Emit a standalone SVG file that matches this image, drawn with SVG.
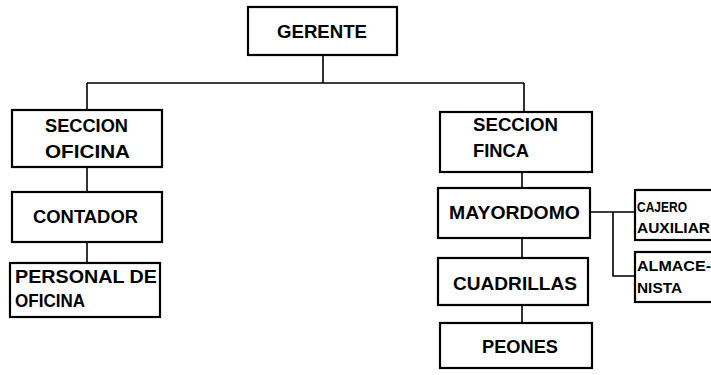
<svg xmlns="http://www.w3.org/2000/svg" width="711" height="375" viewBox="0 0 711 375">
<style>
.box{fill:#fff;stroke:#000;stroke-width:2.2}
.t{font-family:"Liberation Sans",Arial,sans-serif;font-weight:bold;font-size:19px;fill:#000}
.s{font-family:"Liberation Sans",Arial,sans-serif;font-weight:bold;font-size:15px;fill:#000}
.c{fill:none;stroke:#000;stroke-width:1.6}
</style>
<rect width="711" height="375" fill="#fff"/>
<g id="connectors">
<path class="c" d="M323 55V83M87 83H524M87 83V110M524 83V112M87 167V192M87 242V263M522 172V188M522 238V258M522 305V323M590 212H635M613 212V276H635"/>
</g>
<g id="gerente"><rect class="box" x="248" y="7" width="149" height="48"/><text class="t" x="277" y="38" textLength="90" lengthAdjust="spacingAndGlyphs">GERENTE</text></g>
<g id="seccion-oficina"><rect class="box" x="12" y="110" width="150" height="57"/><text class="t" x="45" y="132" textLength="83" lengthAdjust="spacingAndGlyphs">SECCION</text><text class="t" x="45" y="158" textLength="85" lengthAdjust="spacingAndGlyphs">OFICINA</text></g>
<g id="contador"><rect class="box" x="12" y="192" width="150" height="50"/><text class="t" x="33" y="223" textLength="105" lengthAdjust="spacingAndGlyphs">CONTADOR</text></g>
<g id="personal"><rect class="box" x="10" y="263" width="150" height="54"/><text class="t" x="15" y="283" textLength="142" lengthAdjust="spacingAndGlyphs">PERSONAL DE</text><text class="t" x="15" y="307" textLength="70" lengthAdjust="spacingAndGlyphs">OFICINA</text></g>
<g id="seccion-finca"><rect class="box" x="440" y="112" width="152" height="60"/><text class="t" x="473" y="131" textLength="85" lengthAdjust="spacingAndGlyphs">SECCION</text><text class="t" x="473" y="157" textLength="56" lengthAdjust="spacingAndGlyphs">FINCA</text></g>
<g id="mayordomo"><rect class="box" x="438" y="188" width="152" height="50"/><text class="t" x="449" y="219" textLength="131" lengthAdjust="spacingAndGlyphs">MAYORDOMO</text></g>
<g id="cuadrillas"><rect class="box" x="438" y="258" width="150" height="47"/><text class="t" x="453" y="290" textLength="124" lengthAdjust="spacingAndGlyphs">CUADRILLAS</text></g>
<g id="peones"><rect class="box" x="440" y="323" width="152" height="45"/><text class="t" x="482" y="353" textLength="76" lengthAdjust="spacingAndGlyphs">PEONES</text></g>
<g id="cajero"><rect class="box" x="635" y="190" width="80" height="50"/><text class="s" x="637" y="212" textLength="50" lengthAdjust="spacingAndGlyphs">CAJERO</text><text class="s" x="637" y="233" textLength="73" lengthAdjust="spacingAndGlyphs">AUXILIAR</text></g>
<g id="almacenista"><rect class="box" x="635" y="252" width="80" height="50"/><text class="s" x="637" y="271" textLength="74" lengthAdjust="spacingAndGlyphs">ALMACE-</text><text class="s" x="637" y="293" textLength="45" lengthAdjust="spacingAndGlyphs">NISTA</text></g>
</svg>
